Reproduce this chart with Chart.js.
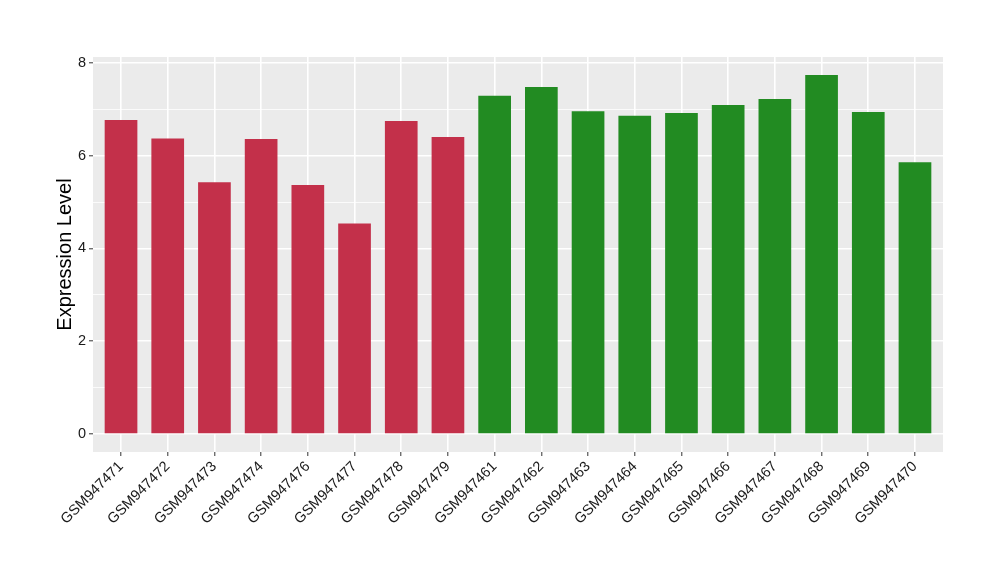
<!DOCTYPE html>
<html>
<head>
<meta charset="utf-8">
<script src="https://cdn.jsdelivr.net/npm/chart.js@4.4.1/dist/chart.umd.min.js"></script>
<style>
html,body{margin:0;padding:0;background:#fff;}
#wrap{width:1000px;height:580px;position:relative;}
</style>
</head>
<body>
<div id="wrap"><canvas id="c" width="1000" height="580"></canvas></div>
<script>
const categories = ["GSM947471","GSM947472","GSM947473","GSM947474","GSM947476","GSM947477","GSM947478","GSM947479","GSM947461","GSM947462","GSM947463","GSM947464","GSM947465","GSM947466","GSM947467","GSM947468","GSM947469","GSM947470"];
const values = [6.77, 6.37, 5.43, 6.36, 5.37, 4.54, 6.75, 6.40, 7.29, 7.48, 6.96, 6.86, 6.92, 7.09, 7.22, 7.74, 6.94, 5.86];
const groups = ["A","A","A","A","A","A","A","A","B","B","B","B","B","B","B","B","B","B"];
const groupColors = {A: "#C3304A", B: "#228B22"};
const yTicks = [0, 1, 2, 3, 4, 5, 6, 7, 8];
const yLabelTicks = [0, 2, 4, 6, 8];
const yTitle = "Expression Level";

const points = values.map((v, i) => ({x: i, y: v}));
const colors = groups.map(g => groupColors[g]);

const panelBg = {
  id: 'panelBg',
  beforeDraw(chart) {
    const {ctx, chartArea: a} = chart;
    ctx.save();
    ctx.fillStyle = '#EBEBEB';
    ctx.fillRect(a.left, a.top, a.right - a.left, a.bottom - a.top);
    ctx.restore();
  }
};

new Chart(document.getElementById('c'), {
  type: 'bar',
  data: {
    datasets: [{
      data: points,
      backgroundColor: colors,
      borderWidth: 0,
      barPercentage: 0.7,
      categoryPercentage: 1.0
    }]
  },
  options: {
    responsive: false,
    animation: false,
    devicePixelRatio: 1,
    layout: {padding: {top: 57, right: 57, left: 0, bottom: 0}},
    plugins: {legend: {display: false}, tooltip: {enabled: false}},
    scales: {
      x: {
        type: 'linear',
        min: -0.6,
        max: categories.length - 1 + 0.6,
        offset: false,
        afterBuildTicks(scale) {
          scale.ticks = categories.map((_, i) => ({value: i}));
        },
        afterFit(scale) { scale.height = 128; },
        border: {display: false},
        grid: {
          offset: false,
          color: '#FFFFFF',
          lineWidth: 1.6,
          drawTicks: true,
          tickLength: 4,
          tickColor: '#333333',
          tickWidth: 1
        },
        ticks: {
          autoSkip: false,
          maxRotation: 45,
          minRotation: 45,
          padding: 2,
          color: '#1a1a1a',
          font: {family: '"Liberation Sans", Arial, sans-serif', size: 14.5},
          callback: (v) => categories[v] ?? ''
        }
      },
      y: {
        type: 'linear',
        min: -0.387,
        max: 8.127,
        afterBuildTicks(scale) {
          scale.ticks = yTicks.map(v => ({value: v}));
        },
        afterFit(scale) { scale.width = 93; },
        border: {display: false},
        grid: {
          color: '#FFFFFF',
          lineWidth: (ctx) => (ctx.tick && ctx.tick.value % 2 === 0) ? 1.6 : 0.8,
          drawTicks: true,
          tickLength: 4,
          tickColor: (ctx) => (ctx.tick && ctx.tick.value % 2 === 0) ? '#333333' : 'rgba(0,0,0,0)',
          tickWidth: 1
        },
        ticks: {
          padding: 3,
          color: '#1a1a1a',
          font: {family: '"Liberation Sans", Arial, sans-serif', size: 14.5},
          callback: (v) => yLabelTicks.includes(v) ? String(v) : ''
        },
        title: {
          display: true,
          text: yTitle,
          color: '#000000',
          padding: {top: 53, bottom: 0},
          font: {family: '"Liberation Sans", Arial, sans-serif', size: 20}
        }
      }
    }
  },
  plugins: [panelBg]
});
</script>
</body>
</html>
